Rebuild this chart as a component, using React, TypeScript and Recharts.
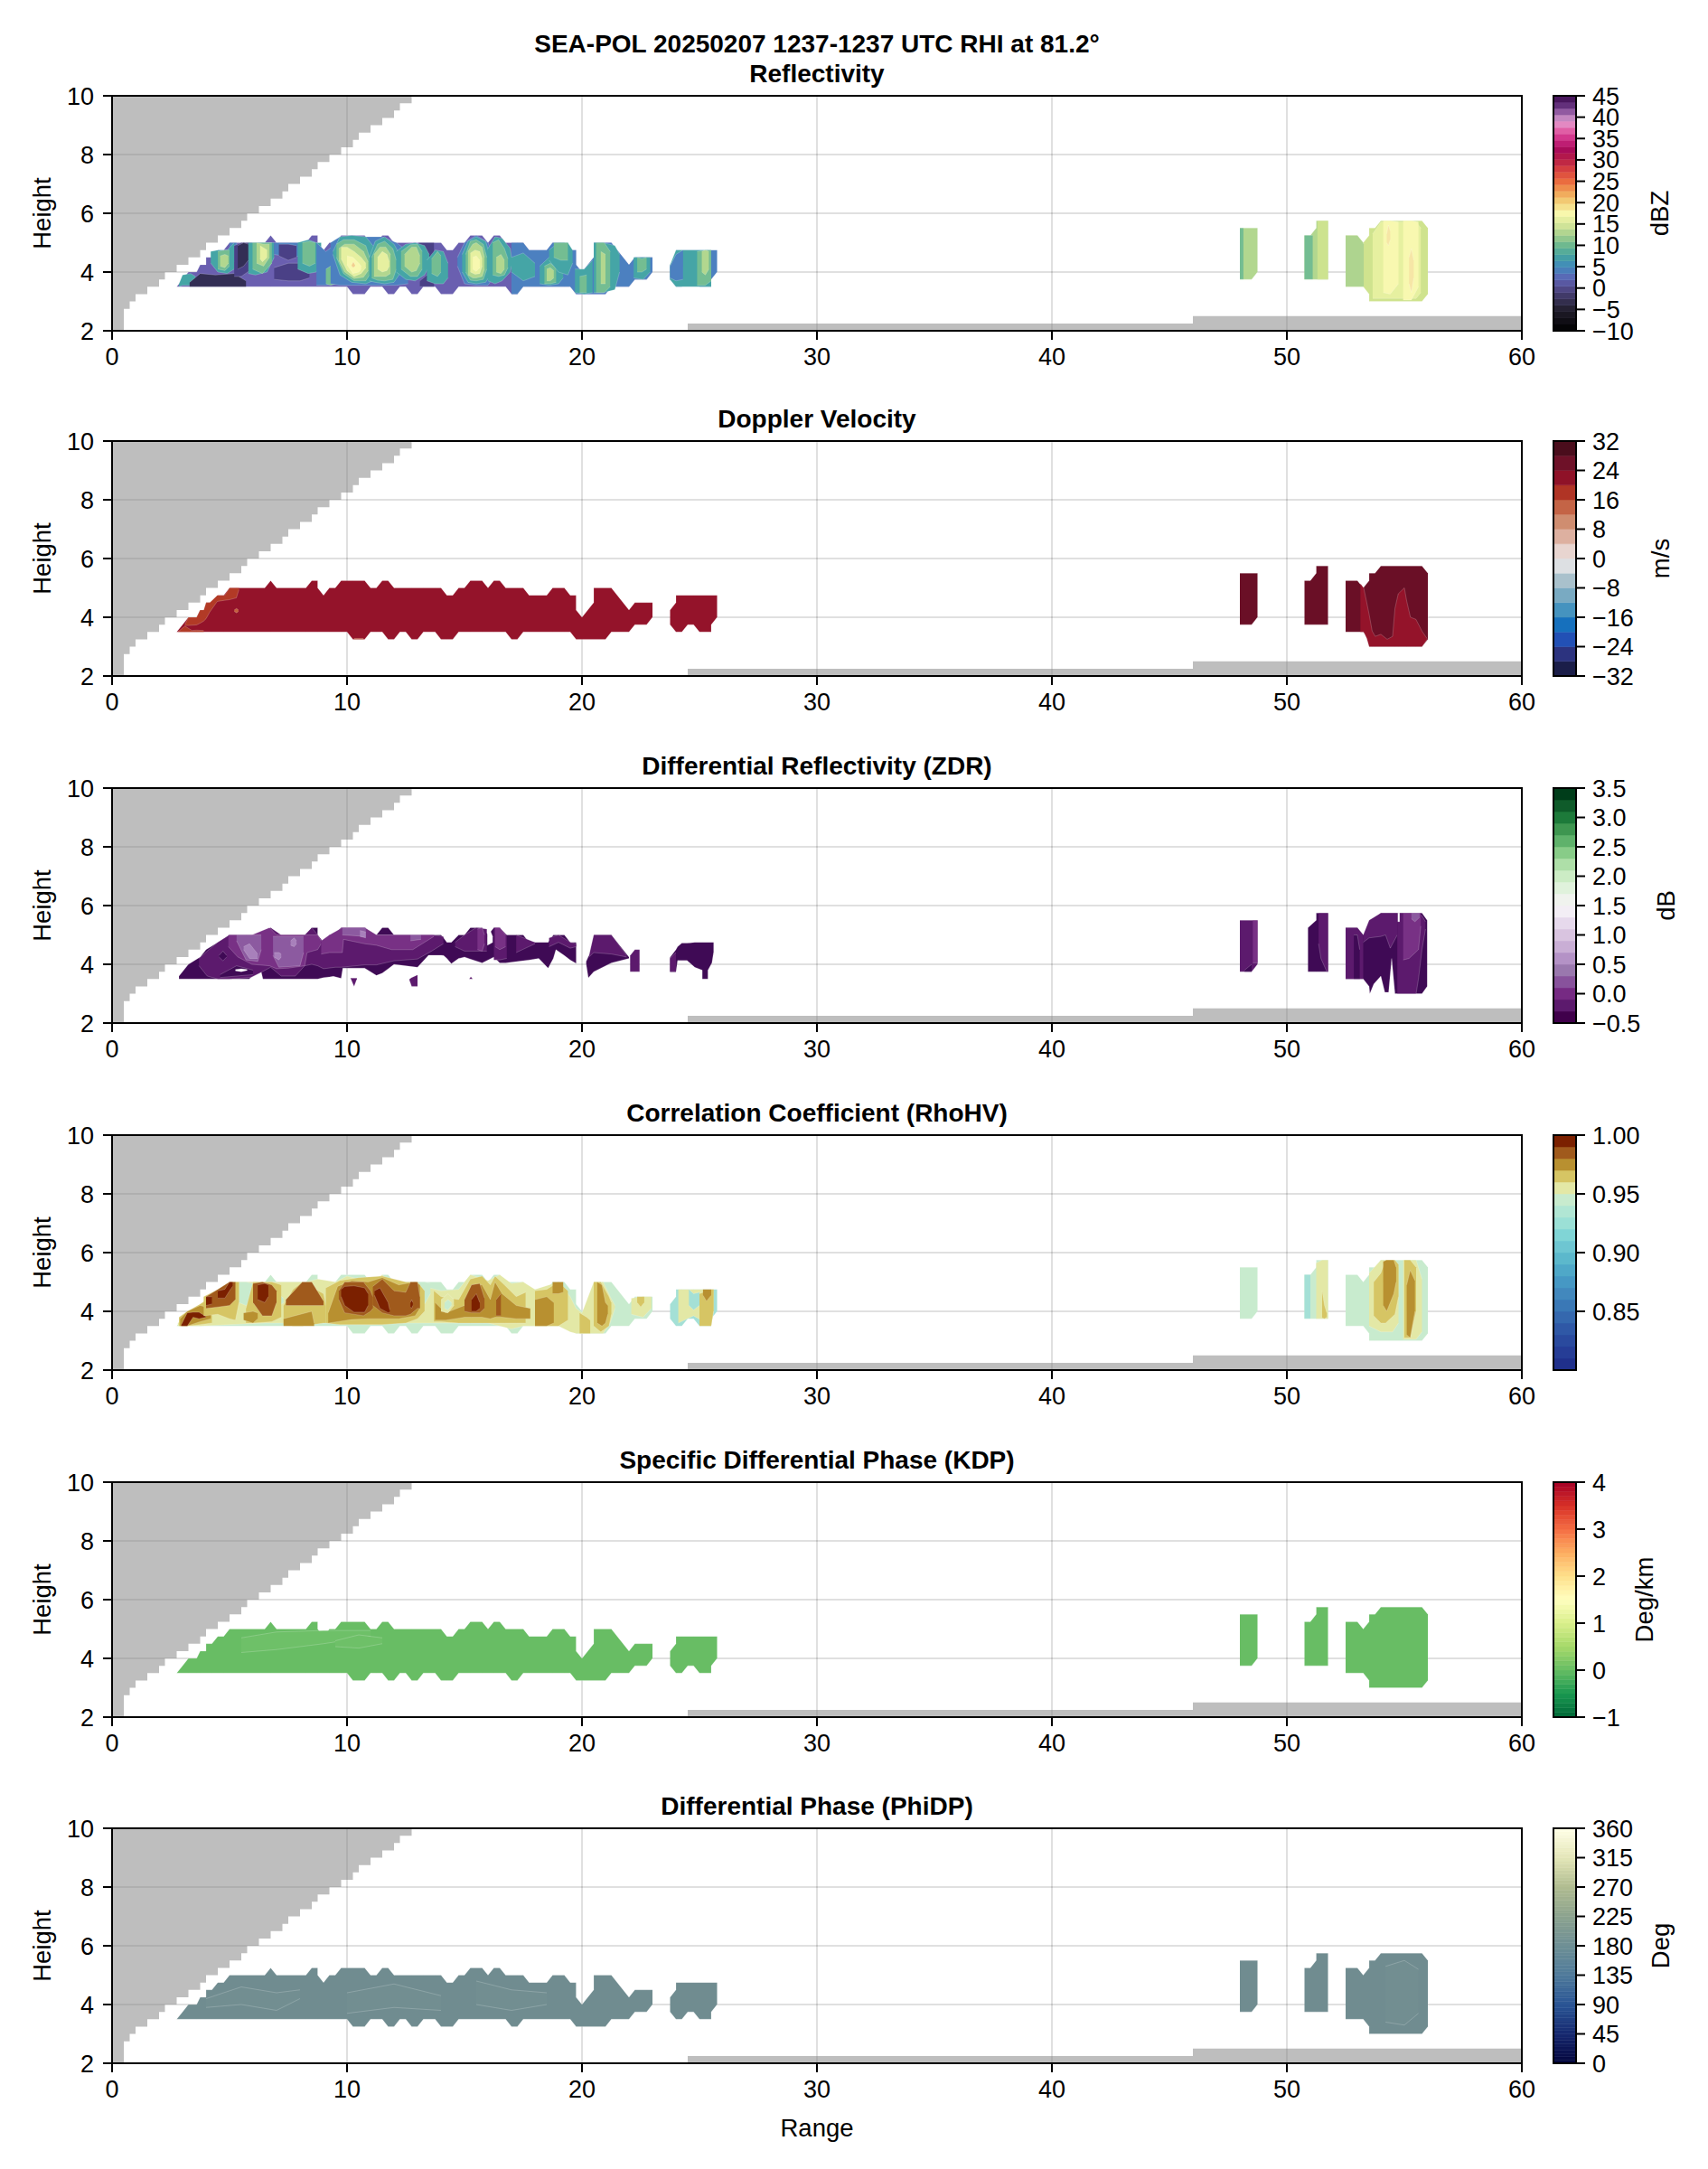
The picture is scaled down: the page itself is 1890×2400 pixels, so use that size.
import React from "react";
import {
  Area,
  CartesianGrid,
  ComposedChart,
  ReferenceArea,
  XAxis,
  YAxis,
} from "recharts";

type Pts = number[][]; // [range, low height, high height]
type Layer = [Pts, string];

const FONT = "'Liberation Sans', Arial, sans-serif";
const FS = 27.5;
const TITLE_FS = 28;
const TICK_FS = 27;

const rangeTicks = [0, 10, 20, 30, 40, 50, 60];
const heightTicks = [2, 4, 6, 8, 10];
const panelTops = [106, 488, 872, 1256, 1640, 2023];

// blocked beam area, upper left and along the ground
const blockedTop: Pts = [
  [0, 2, 10], [0.5, 2.75, 10], [0.75, 3, 10], [1, 3.25, 10], [1.5, 3.5, 10], [2, 3.75, 10], [2.25, 4, 10],
  [2.75, 4.25, 10], [3.25, 4.5, 10], [3.75, 4.75, 10], [4, 5, 10], [4.5, 5.25, 10], [5, 5.5, 10], [5.5, 5.75, 10],
  [5.75, 6, 10], [6.25, 6.25, 10], [6.75, 6.5, 10], [7.25, 6.75, 10], [7.5, 7, 10], [8, 7.25, 10], [8.5, 7.5, 10],
  [8.75, 7.75, 10], [9.25, 8, 10], [9.75, 8.25, 10], [10.25, 8.5, 10], [10.5, 8.75, 10], [11, 9, 10], [11.5, 9.25, 10],
  [12, 9.5, 10], [12.25, 9.75, 10], [12.75, 10, 10],
];
const blockedGround: Pts = [[24.5, 2, 2.25], [46, 2, 2.5], [60, 2, 2.5]];

// echo outlines
const bodyMain: Pts = [
  [2.75, 3.5, 3.5], [3, 3.5, 3.75], [3.25, 3.5, 4], [3.6, 3.5, 4], [3.75, 3.5, 4.25], [4, 3.5, 4.25], [4, 3.5, 4.5],
  [4.25, 3.5, 4.5], [4.5, 3.5, 4.75], [4.75, 3.5, 4.75], [5, 3.5, 5], [6.5, 3.5, 5], [6.75, 3.5, 5.25], [7, 3.5, 5],
  [8.25, 3.5, 5], [8.5, 3.5, 5.25], [8.75, 3.5, 5.25], [8.75, 3.5, 5], [9, 3.5, 4.75], [9.25, 3.5, 5], [9.5, 3.5, 5],
  [9.75, 3.5, 5.25], [10, 3.5, 5.25], [10.25, 3.25, 5.25], [10.75, 3.25, 5.25], [11, 3.5, 5], [11.25, 3.5, 5],
  [11.5, 3.5, 5.25], [11.75, 3.25, 5.25], [12, 3.25, 5], [12.25, 3.5, 5], [12.5, 3.5, 5], [12.75, 3.25, 5], [13, 3.25, 5],
  [13.25, 3.5, 5], [13.75, 3.5, 5], [14, 3.25, 5], [14.25, 3.25, 4.75], [14.5, 3.25, 4.75], [14.75, 3.5, 5], [15, 3.5, 5],
  [15.25, 3.5, 5.25], [15.75, 3.5, 5.25], [16, 3.5, 5], [16.25, 3.5, 5.25], [16.5, 3.5, 5.25], [16.75, 3.5, 5],
  [17, 3.25, 5], [17.25, 3.25, 5], [17.5, 3.5, 5], [17.75, 3.5, 4.75], [18.5, 3.5, 4.75], [18.75, 3.5, 5], [19.25, 3.5, 5],
  [19.5, 3.5, 4.75], [19.75, 3.25, 4.75], [19.75, 3.25, 4.25], [20, 3.25, 4], [20.5, 3.25, 4.5], [20.5, 3.25, 5],
  [21, 3.25, 5], [21.25, 3.5, 5], [22, 3.5, 4.25], [22.25, 3.75, 4.5], [22.75, 3.75, 4.5], [23, 4, 4.5],
];
const bodySecond: Pts = [
  [23.75, 3.75, 4.25], [24, 3.5, 4.5], [24, 3.5, 4.75], [24.25, 3.5, 4.75], [24.5, 3.75, 4.75], [24.75, 3.75, 4.75],
  [25, 3.5, 4.75], [25.5, 3.5, 4.75], [25.5, 3.75, 4.75], [25.75, 4, 4.75],
];
const cellA: Pts = [[48, 3.75, 5.5], [48.5, 3.75, 5.5], [48.75, 4, 5.5]];
const cellB: Pts = [[50.75, 3.75, 5.25], [51, 3.75, 5.25], [51.25, 3.75, 5.5], [51.25, 3.75, 5.75], [51.75, 3.75, 5.75]];
const cellC: Pts = [
  [52.5, 3.5, 5.25], [53, 3.5, 5.25], [53.25, 3.5, 5], [53.5, 3.25, 5.25], [53.5, 3, 5.5], [53.75, 3, 5.5],
  [54, 3, 5.75], [55.75, 3, 5.75], [56, 3.25, 5.5],
];
const cellCLeft: Pts = [[52.5, 3.5, 5.25], [53, 3.5, 5.25], [53.25, 3.5, 5], [53.27, 3.5, 4.95]];
const bodyRight: Pts = [
  [17, 3.25, 5], [17.25, 3.25, 5], [17.5, 3.5, 5], [17.75, 3.5, 4.75], [18.5, 3.5, 4.75], [18.75, 3.5, 5], [19.25, 3.5, 5],
  [19.5, 3.5, 4.75], [19.75, 3.25, 4.75], [19.75, 3.25, 4.25], [20, 3.25, 4], [20.5, 3.25, 4.5], [20.5, 3.25, 5],
  [21, 3.25, 5], [21.25, 3.5, 5], [22, 3.5, 4.25], [22.25, 3.75, 4.5], [22.75, 3.75, 4.5], [23, 4, 4.5],
];

// reflectivity contour colours
const Z = {
  black: "#332e55", dark: "#4a4086", violet: "#6a5fb0", blue: "#4c80c0", teal: "#45a5a6", green: "#74bd92",
  light: "#b2d78f", yellow: "#e6f0a0", pale: "#f8f8b0", peach: "#f2cf90",
};
const zHaloBlue: Pts = [[9.3, 3.6, 5], [9.7, 3.55, 5.2], [10.8, 3.55, 5.2], [11.5, 3.55, 5.2], [12.1, 3.55, 5], [12.6, 3.6, 4.7]];
const zATeal: Pts = [[9.4, 4.6, 4.7], [9.7, 3.9, 5.2], [10.2, 3.65, 5.25], [10.8, 3.6, 5.2], [11.1, 3.7, 4.9]];
const zAGreen: Pts = [[9.55, 4.5, 4.95], [9.85, 3.95, 5.1], [10.3, 3.7, 5.1], [10.8, 3.7, 4.9], [11, 3.95, 4.4]];
const zALight: Pts = [[9.65, 4.4, 4.8], [9.9, 4, 4.95], [10.3, 3.78, 4.95], [10.7, 3.82, 4.7], [10.9, 4.05, 4.35]];
const zAYellow: Pts = [[9.75, 4.45, 4.85], [10, 4.05, 4.85], [10.3, 3.85, 4.7], [10.6, 3.95, 4.5], [10.8, 4.15, 4.3]];
const zAPale: Pts = [[10, 4.25, 4.55], [10.25, 3.95, 4.5], [10.5, 4, 4.3], [10.6, 4.1, 4.2]];
const zAPeach: Pts = [[10.2, 4.2, 4.25], [10.27, 4.15, 4.35], [10.34, 4.2, 4.25]];
const zBTeal: Pts = [[10.95, 3.7, 4.5], [11.2, 3.65, 5.05], [11.6, 3.6, 5.2], [12, 3.65, 4.95], [12.3, 4, 4.5]];
const zBGreen: Pts = [[11.05, 3.8, 4.5], [11.3, 3.72, 4.95], [11.6, 3.7, 5.05], [11.95, 3.75, 4.8], [12.1, 4.1, 4.4]];
const zBLight: Pts = [[11.15, 3.85, 4.6], [11.4, 3.85, 4.85], [11.65, 3.85, 4.85], [11.85, 3.95, 4.6]];
const zBYellow: Pts = [[11.3, 4.1, 4.5], [11.5, 4, 4.7], [11.7, 4.05, 4.6], [11.8, 4.2, 4.35]];
const zCTeal: Pts = [[12.1, 4, 4.7], [12.5, 3.75, 4.95], [12.9, 3.7, 5], [13.3, 3.9, 4.9], [13.5, 4.2, 4.6]];
const zCGreen: Pts = [[12.3, 4.1, 4.7], [12.7, 3.85, 4.93], [13, 3.85, 4.95], [13.2, 4.1, 4.7]];
const zCLight: Pts = [[12.45, 4.2, 4.6], [12.75, 4, 4.85], [12.95, 4.05, 4.85], [13.1, 4.3, 4.55]];
const zCDark: Pts = [[13.05, 4.65, 5], [13.4, 4.45, 5], [13.7, 4.6, 5]];
const zCDarker: Pts = [[13.1, 3.5, 3.7], [13.4, 3.5, 3.9], [13.7, 3.5, 3.65]];
const zDTeal: Pts = [[13.4, 3.7, 4.4], [13.75, 3.6, 4.75], [14.1, 3.6, 4.7], [14.3, 3.8, 4.3]];
const zDGreen: Pts = [[13.6, 3.95, 4.45], [13.85, 3.85, 4.7], [14, 4, 4.55]];
const zEBlue: Pts = [[14.7, 4.2, 4.5], [15, 3.6, 5], [15.5, 3.55, 5.25], [16, 3.55, 5], [16.3, 3.9, 4.4]];
const zETeal: Pts = [[14.9, 4, 4.6], [15.15, 3.65, 5.05], [15.5, 3.6, 5.2], [15.9, 3.65, 5.05], [16.1, 3.9, 4.5]];
const zEGreen: Pts = [[15.05, 4, 4.6], [15.25, 3.72, 5.05], [15.5, 3.7, 5.1], [15.8, 3.75, 4.95], [15.95, 4.1, 4.5]];
const zELight: Pts = [[15.15, 3.9, 4.7], [15.35, 3.8, 4.95], [15.5, 3.8, 5], [15.75, 3.85, 4.85], [15.85, 4.1, 4.5]];
const zEYellow: Pts = [[15.25, 4, 4.65], [15.45, 3.92, 4.75], [15.65, 3.95, 4.7], [15.75, 4.2, 4.45]];
const zEPale: Pts = [[15.35, 4.1, 4.5], [15.5, 4.02, 4.55], [15.65, 4.15, 4.4]];
const zFTeal: Pts = [[16, 3.7, 4.8], [16.3, 3.6, 5.2], [16.6, 3.7, 5.15], [16.95, 4, 4.8], [17, 4.2, 4.5]];
const zFGreen: Pts = [[16.2, 3.9, 5], [16.45, 3.85, 5.1], [16.7, 3.9, 4.8], [16.85, 4.15, 4.45]];
const zFLight: Pts = [[16.35, 4, 4.5], [16.55, 3.95, 4.6], [16.7, 4.1, 4.4]];
const zGTeal: Pts = [[17, 4, 4.5], [17.5, 3.7, 4.65], [18, 3.85, 4.3]];
const zHTeal: Pts = [[18.2, 3.6, 4.2], [18.6, 3.55, 4.5], [19, 3.6, 4.4], [19.2, 3.8, 4.1]];
const zHGreen: Pts = [[18.4, 3.6, 4.2], [18.65, 3.6, 4.3], [18.9, 3.65, 4.15]];
const zHLight: Pts = [[18.5, 3.7, 4.1], [18.65, 3.7, 4.15], [18.8, 3.8, 4.05]];
const zITeal: Pts = [[18.6, 4.4, 4.75], [19, 4, 5], [19.4, 3.9, 5], [19.6, 4.3, 4.75]];
const zIGreen: Pts = [[18.8, 4.5, 5], [19.1, 4.4, 5], [19.4, 4.4, 5]];
const zJTeal: Pts = [[20.5, 3.3, 5], [20.9, 3.3, 5], [21.4, 3.4, 4.9], [21.6, 4, 4.6]];
const zJGreen: Pts = [[20.6, 3.3, 5], [20.95, 3.3, 5], [21.2, 3.5, 4.7]];
const zJLight: Pts = [[20.8, 3.6, 4.7], [21, 3.6, 4.6]];
const zKTeal: Pts = [[19.7, 3.3, 4.1], [20.1, 3.25, 4.1], [20.45, 3.3, 4.4]];
const zKGreen: Pts = [[19.9, 3.3, 3.85], [20.2, 3.3, 3.9]];
const zLTeal: Pts = [[22.2, 3.8, 4.5], [22.6, 3.75, 4.5], [22.9, 4, 4.5]];
const zLGreen: Pts = [[22.35, 4, 4.5], [22.55, 4, 4.45], [22.75, 4.1, 4.5]];
const zM1Teal: Pts = [[5.8, 3.95, 5], [6.1, 3.9, 5], [6.6, 4, 5], [6.9, 4.5, 5]];
const zM1Green: Pts = [[5.98, 4.1, 5], [6.4, 3.95, 5], [6.8, 4.3, 5]];
const zM1Light: Pts = [[6.15, 4.3, 5], [6.45, 4.2, 4.95], [6.7, 4.5, 4.95]];
const zM1Yellow: Pts = [[6.3, 4.45, 4.9], [6.4, 4.35, 4.85], [6.6, 4.5, 4.75]];
const zM2Teal: Pts = [[4.2, 4.3, 4.7], [4.5, 4, 4.75], [4.9, 3.95, 4.75], [5.2, 4.1, 5]];
const zM2Green: Pts = [[4.5, 4.1, 4.7], [4.8, 4.05, 4.75], [5, 4.2, 4.75]];
const zM2Light: Pts = [[4.6, 4.2, 4.55], [4.8, 4.15, 4.6], [4.95, 4.3, 4.55]];
const zLeftBlue: Pts = [[5, 4.5, 5], [5.3, 4.3, 5], [5.35, 4.6, 4.8]];
const zDark1: Pts = [[5.2, 3.85, 4.9], [5.5, 3.85, 5], [5.95, 4.1, 5]];
const zDark1b: Pts = [[5.35, 4.1, 4.9], [5.6, 4.2, 5], [5.8, 4.4, 4.95]];
const zDark2: Pts = [[3.3, 3.5, 3.65], [3.75, 3.5, 3.95], [4.4, 3.5, 3.9], [5.2, 3.5, 3.95], [5.7, 3.5, 3.7]];
const zBlueN: Pts = [[6.9, 4.6, 5], [7.6, 4.5, 5], [8, 4.55, 5]];
const zNTeal: Pts = [[7.9, 4.1, 5], [8.35, 3.95, 5.1], [8.7, 4, 5], [8.9, 4.4, 5]];
const zNGreen: Pts = [[8.1, 4.3, 5], [8.4, 4.2, 5.05], [8.65, 4.3, 5]];
const zDark3: Pts = [[6.9, 3.75, 4.15], [7.5, 3.7, 4.3], [8, 3.7, 4.3], [8.4, 3.8, 4.05]];
const zDark4: Pts = [[7.1, 4.55, 4.95], [7.5, 4.4, 4.95], [7.85, 4.5, 4.9]];
const zBlueP: Pts = [[8.7, 3.55, 5], [9.1, 3.55, 4.7], [9.6, 3.6, 5]];
const zPGreen: Pts = [[9.1, 3.6, 4.1], [9.3, 3.55, 4.2], [9.55, 3.6, 4]];
const zTipTeal: Pts = [[2.85, 3.5, 3.6], [3, 3.55, 3.9], [3.35, 3.55, 3.95], [3.55, 3.7, 3.85]];
const zSecondTeal: Pts = [[23.75, 3.75, 4.25], [24, 3.5, 4.75], [25, 3.5, 4.75], [25.5, 3.5, 4.75]];
const zSecondBlue: Pts = [[23.75, 3.8, 4.2], [24, 3.7, 4.6], [24.3, 3.75, 4.75]];
const zSecondGreen: Pts = [[24.9, 3.55, 4.7], [25.25, 3.55, 4.75], [25.5, 3.7, 4.75]];
const zSecondLight: Pts = [[25.1, 4, 4.7], [25.25, 3.9, 4.75], [25.4, 4.1, 4.7]];
const zCellCYellow: Pts = [[53.65, 3.1, 5.3], [54, 3.1, 5.7], [55.5, 3.1, 5.7], [55.7, 3.3, 5.5]];
const zCellCPale1: Pts = [[54.1, 3.3, 5.75], [54.4, 3.25, 5.75], [54.75, 3.6, 5.7]];
const zCellCPale2: Pts = [[54.95, 3.05, 5.75], [55.3, 3.05, 5.75], [55.6, 3.5, 5.7]];
const zCellCPeach1: Pts = [[54.25, 5, 5.3], [54.32, 4.9, 5.6], [54.4, 5.1, 5.4]];
const zCellCPeach2: Pts = [[55.2, 3.6, 4.5], [55.3, 3.3, 4.8], [55.4, 3.8, 4.4]];
const zCellAGreen: Pts = [[48, 3.75, 5.5], [48.15, 3.75, 5.5]];
const zCellBGreen: Pts = [[50.75, 3.75, 5.25], [51.1, 3.75, 5.25]];
const zCellBYellow: Pts = [[51.3, 3.75, 5.75], [51.75, 3.75, 5.75]];

const reflectivityLayers: Layer[] = [
  [bodyMain, Z.violet], [bodyRight, Z.blue], [bodySecond, Z.blue], [zTipTeal, Z.teal], [zDark2, Z.black],
  [zLeftBlue, Z.blue], [zM2Teal, Z.teal], [zM2Green, Z.green], [zM2Light, Z.light], [zDark1, Z.dark], [zDark1b, Z.black],
  [zM1Teal, Z.teal], [zM1Green, Z.green], [zM1Light, Z.light], [zM1Yellow, Z.yellow], [zBlueN, Z.blue], [zDark3, Z.dark], [zDark4, Z.dark],
  [zNTeal, Z.teal], [zNGreen, Z.green], [zBlueP, Z.blue], [zPGreen, Z.green], [zHaloBlue, Z.blue],
  [zATeal, Z.teal], [zAGreen, Z.green], [zALight, Z.light], [zAYellow, Z.yellow], [zAPale, Z.pale], [zAPeach, Z.peach],
  [zCDark, Z.dark], [zCDarker, Z.dark], [zBTeal, Z.teal], [zBGreen, Z.green], [zBLight, Z.light], [zBYellow, Z.yellow],
  [zCTeal, Z.teal], [zCGreen, Z.green], [zCLight, Z.light], [zDTeal, Z.teal], [zDGreen, Z.green],
  [zEBlue, Z.blue], [zETeal, Z.teal], [zEGreen, Z.green], [zELight, Z.light], [zEYellow, Z.yellow], [zEPale, Z.pale],
  [zFTeal, Z.teal], [zFGreen, Z.green], [zFLight, Z.light], [zGTeal, Z.teal], [zHTeal, Z.teal], [zHGreen, Z.green], [zHLight, Z.light],
  [zITeal, Z.teal], [zIGreen, Z.green], [zKTeal, Z.teal], [zKGreen, Z.green], [zJTeal, Z.teal], [zJGreen, Z.green], [zJLight, Z.light],
  [zLTeal, Z.teal], [zLGreen, Z.green], [zSecondTeal, Z.teal], [zSecondBlue, Z.blue], [zSecondGreen, Z.green], [zSecondLight, Z.light],
  [cellA, Z.light], [zCellAGreen, Z.green], [cellB, Z.light], [zCellBGreen, Z.green], [zCellBYellow, "#cde38f"],
  [cellC, "#cfe38e"], [cellCLeft, "#aed48f"], [zCellCYellow, Z.yellow], [zCellCPale1, Z.pale], [zCellCPale2, Z.pale],
  [zCellCPeach1, "#f6e6a6"], [zCellCPeach2, "#f6e6a6"],
];

// doppler velocity
const vOrangeUpper: Pts = [
  [3.1, 3.72, 3.75], [3.25, 3.72, 4], [3.6, 3.74, 4], [3.75, 3.8, 4.25], [3.9, 3.87, 4.25], [4, 3.95, 4.5],
  [4.16, 4.18, 4.5], [4.48, 4.54, 4.75], [4.8, 4.58, 4.75], [5, 4.6, 5], [5.29, 4.66, 5], [5.4, 4.94, 5],
];
const vOrangeLower: Pts = [[2.8, 3.5, 3.5], [3.1, 3.5, 3.7], [3.4, 3.5, 3.55], [3.6, 3.5, 3.56], [3.9, 3.5, 3.55]];
const vOrangeDot: Pts = [[5.2, 4.2, 4.25], [5.3, 4.15, 4.3], [5.38, 4.2, 4.25]];
const vOrangeFoot: Pts = [[10.3, 3.25, 3.28], [10.7, 3.25, 3.28]];
const vCellCRed: Pts = [
  [53.13, 3.5, 5.15], [53.27, 3.5, 5], [53.4, 3.28, 4.5], [53.5, 3, 4.1], [53.63, 3, 3.53], [53.76, 3, 3.35], [54, 3, 3.42],
  [54.27, 3, 3.25], [54.5, 3, 3.35], [54.6, 3, 4.3], [54.74, 3, 4.8], [55, 3, 5], [55.1, 3, 4.55], [55.26, 3, 4],
  [55.49, 3, 3.93], [55.75, 3, 3.53], [55.97, 3.25, 3.27],
];
const V = { red: "#94132a", wine: "#6a0f26", orange: "#b23a26" };
const velocityLayers: Layer[] = [
  [bodyMain, V.red], [bodySecond, V.red], [vOrangeUpper, V.orange], [vOrangeLower, V.orange], [vOrangeDot, "#c4603e"], [vOrangeFoot, "#c4603e"],
  [cellA, V.wine], [cellB, V.wine], [cellC, V.wine], [vCellCRed, V.red],
];

// differential reflectivity
const D = { dark: "#3f0a55", mid: "#5c1a6d", hi: "#783185", light: "#8c5aa0", pale: "#a880bb" };
const zdrMain: Pts = [
  [2.85, 3.5, 3.6], [3.25, 3.5, 4], [3.75, 3.5, 4.25], [4, 3.5, 4.5], [4.5, 3.5, 4.75], [5, 3.5, 5], [5.85, 3.5, 5], [6, 3.68, 5],
  [6.35, 3.74, 5], [6.42, 3.5, 5], [6.75, 3.5, 5.25], [7, 3.5, 5], [8.25, 3.5, 5], [8.5, 3.5, 5.25], [8.75, 3.5, 5.25], [8.75, 3.5, 5],
  [9, 3.55, 4.75], [9.25, 3.57, 5], [9.42, 3.59, 5], [9.75, 3.52, 5.25], [9.82, 3.87, 5.25], [10.75, 3.87, 5.25], [11, 3.75, 5],
  [11.25, 3.62, 5], [11.5, 3.7, 5.25], [11.75, 3.85, 5.25], [12, 4, 5], [13, 3.9, 5], [13.47, 4.31, 5], [14, 4.31, 5], [14.11, 4.3, 4.9],
  [14.25, 4.2, 4.75], [14.44, 4.02, 4.75], [14.75, 4.2, 5], [15, 4.25, 5], [15.25, 4.18, 5.25], [15.75, 4.05, 5.25], [16, 4.15, 5],
  [16.25, 4.25, 5.25], [16.5, 4.05, 5.25], [16.75, 4.05, 5], [17.5, 4.12, 5], [17.75, 4.15, 4.75], [18.16, 4.2, 4.75], [18.56, 3.87, 4.75],
  [18.78, 4.2, 5], [18.89, 4.5, 5], [19.25, 4.3, 5], [19.5, 4.15, 4.75], [19.75, 4.03, 4.75],
];
const zdrSecond: Pts = [[20.18, 4, 4.1], [20.27, 3.54, 4.26], [20.5, 3.75, 4.5], [20.5, 3.75, 5], [21.25, 4.05, 5], [22, 4.2, 4.25]];
const zdrStrip: Pts = [[22.05, 3.75, 4.3], [22.25, 3.75, 4.5], [22.45, 3.75, 4.5]];
const zdrThird: Pts = [
  [23.75, 3.74, 4.24], [24, 3.74, 4.5], [24.07, 4.13, 4.6], [24.25, 4.13, 4.72], [24.47, 4.13, 4.72], [24.8, 3.9, 4.75],
  [25.12, 3.8, 4.75], [25.12, 3.5, 4.75], [25.36, 3.5, 4.75], [25.36, 3.8, 4.75], [25.53, 4.05, 4.75], [25.6, 4.4, 4.75],
];
const zdrSpeck1: Pts = [[10.15, 3.52, 3.53], [10.3, 3.25, 3.53], [10.42, 3.5, 3.53]];
const zdrSpeck2: Pts = [[12.66, 3.45, 3.5], [12.75, 3.25, 3.55], [13, 3.25, 3.64]];
const zdrSpeck3: Pts = [[15.2, 3.5, 3.5], [15.27, 3.5, 3.58], [15.35, 3.5, 3.5]];
const zdrHole1: Pts = [[15.97, 4.65, 5], [16.1, 4.7, 5.15], [16.2, 4.75, 4.95]];
const zdrHole2: Pts = [[5.25, 3.78, 3.82], [5.5, 3.75, 3.85], [5.75, 3.79, 3.82]];
const zdrMid1: Pts = [
  [3.7, 3.95, 4.2], [4.05, 3.6, 4.45], [4.5, 3.5, 4.75], [5, 3.5, 5], [5.9, 3.55, 5], [6.4, 3.75, 5], [6.75, 3.9, 5.25], [7.2, 3.6, 5],
  [7.8, 3.6, 5], [8.2, 3.95, 5], [8.5, 4, 5.25], [8.75, 3.95, 5], [9, 3.85, 4.75], [9.5, 3.9, 5], [9.75, 3.9, 5.25], [10.75, 3.98, 5.25],
  [11.25, 3.98, 5], [12, 4.12, 5], [13, 4.18, 5], [13.6, 4.45, 5], [14.1, 4.7, 4.95],
];
const zdrMid2: Pts = [[14.6, 4.6, 4.75], [15, 4.45, 5], [15.5, 4.45, 5.25], [15.95, 4.45, 5.2]];
const zdrMid3: Pts = [[16.25, 4.15, 5.25], [16.5, 4.15, 5.25], [16.8, 4.2, 5]];
const zdrMid4: Pts = [[17.2, 4.4, 5], [18, 4.7, 4.75]];
const zdrMid5: Pts = [[18.6, 4.6, 4.9], [19, 4.75, 5], [19.5, 4.55, 4.75], [19.75, 4.6, 4.7]];
const zdrMid6: Pts = [[20.3, 4.25, 4.3], [20.5, 4.4, 5], [21.25, 4.35, 5], [21.9, 4.25, 4.3]];
const zdrMid7: Pts = [[23.75, 3.75, 4.2], [24, 3.75, 4.4]];
const zdrDark1: Pts = [[4.55, 4.25, 4.3], [4.72, 4.12, 4.45], [4.88, 4.25, 4.3]];
const zdrDark2: Pts = [[4.6, 3.55, 3.65], [5.3, 3.6, 3.95], [6, 3.65, 3.8]];
const zdrHi1: Pts = [[4.95, 4.6, 5], [5.35, 4.25, 5], [5.95, 4, 5], [6.7, 3.95, 5.25], [7, 3.85, 5], [7.5, 3.87, 5], [8.2, 3.95, 5], [8.3, 4.4, 5], [8.75, 4.5, 5], [8.9, 4.7, 4.8]];
const zdrHi2: Pts = [[8.9, 4.35, 4.8], [9.25, 4.4, 5], [9.8, 4.4, 5.25], [9.85, 4.85, 5.25], [10.75, 4.7, 5.25], [11.25, 4.65, 5], [11.9, 4.5, 5], [12.8, 4.5, 5], [13.7, 4.95, 5]];
const zdrHi3: Pts = [[16.3, 4.6, 5.25], [16.5, 4.5, 5.25], [16.75, 4.6, 5]];
const zdrHi4: Pts = [[15.55, 4.5, 5.2], [15.75, 4.45, 5.25], [15.85, 4.7, 5]];
const zdrLight1: Pts = [[5.3, 4.8, 5], [5.7, 4.15, 5], [6.2, 4.1, 5], [6.35, 4.5, 5]];
const zdrLight2: Pts = [[6.85, 4.3, 4.95], [7.1, 3.9, 4.95], [8, 3.95, 4.95], [8.15, 4.4, 4.95]];
const zdrLight3: Pts = [[9.8, 5, 5.25], [10.8, 4.95, 5.25]];
const zdrLight4: Pts = [[12.7, 4.8, 5], [13.15, 4.85, 5]];
const zdrPale1: Pts = [[5.6, 4.5, 4.6], [5.85, 4.2, 4.7], [6.2, 4.2, 4.35]];
const zdrPale2: Pts = [[6.9, 4.25, 4.4], [7.1, 4.15, 4.4], [7.2, 4.25, 4.35]];
const zdrPale3: Pts = [[7.6, 4.65, 4.8], [7.75, 4.6, 4.9], [7.85, 4.7, 4.8]];
const zdrPale4: Pts = [[10.55, 4.95, 5.15], [10.8, 4.9, 5.1]];
const zdrCellAHi: Pts = [[48.55, 4.05, 5.5], [48.75, 4.05, 5.5]];
const zdrCellADark: Pts = [[48.2, 3.75, 3.8], [48.5, 3.75, 4]];
const zdrCellB: Pts = [[50.9, 3.75, 5.25], [51.25, 3.75, 5.5], [51.25, 3.75, 5.75], [51.75, 3.75, 5.75]];
const zdrCellBMid: Pts = [[51.35, 4.7, 5.75], [51.45, 4.2, 5.75], [51.7, 3.75, 5.75], [51.75, 3.75, 5.75]];
const zdrCellC: Pts = [
  [52.5, 3.5, 5.25], [53, 3.5, 5.25], [53.25, 3.5, 5], [53.5, 3.25, 5.25], [53.53, 3, 5.5], [53.7, 3.33, 5.5], [54, 3.6, 5.75],
  [54.17, 3.05, 5.75], [54.33, 3.05, 5.75], [54.46, 4.2, 5.75], [54.6, 3, 5.75], [55.75, 3, 5.75], [55.97, 3.25, 5.5],
];
const zdrCellCMidLeft: Pts = [[52.5, 3.5, 5.25], [53, 3.5, 5.25], [53.25, 3.5, 5]];
const zdrCellCDarkLeft: Pts = [[52.85, 3.5, 5], [53, 3.5, 5], [53.1, 3.5, 4.5]];
const zdrCellCMidTop: Pts = [[53.25, 4.75, 5], [53.5, 4.9, 5.5], [54, 4.95, 5.75], [54.2, 5, 5.75], [54.4, 4.55, 5.75], [54.7, 5, 5.75]];
const zdrCellCMidRight: Pts = [[54.7, 3, 5.75], [55.5, 3, 5.75], [55.6, 3.5, 5.75], [55.75, 4.5, 5.65], [55.9, 5.2, 5.45]];
const zdrCellCHi: Pts = [[54.95, 4.15, 5.75], [55.2, 4.2, 5.75], [55.6, 4.5, 5.75], [55.7, 5.3, 5.75]];
const zdrCellCTop: Pts = [[55.3, 5.55, 5.75], [55.45, 5.45, 5.75], [55.65, 5.6, 5.75]];
const zdrCellCGap: Pts = [[54.72, 5.45, 5.75], [54.8, 5.45, 5.75]];
const zdrLayers: Layer[] = [
  [zdrMain, D.dark], [zdrSecond, D.dark], [zdrStrip, D.mid], [zdrThird, D.dark], [zdrSpeck1, D.mid], [zdrSpeck2, D.mid], [zdrSpeck3, D.mid],
  [zdrMid1, D.mid], [zdrMid2, D.mid], [zdrMid3, D.mid], [zdrMid4, D.mid], [zdrMid5, D.mid], [zdrMid6, D.mid], [zdrMid7, D.mid],
  [zdrDark1, D.dark], [zdrDark2, D.dark], [zdrHi1, D.hi], [zdrHi2, D.hi], [zdrHi3, D.hi], [zdrHi4, D.hi],
  [zdrLight1, D.light], [zdrLight2, D.light], [zdrLight3, D.light], [zdrLight4, D.light],
  [zdrPale1, D.pale], [zdrPale2, D.pale], [zdrPale3, D.pale], [zdrPale4, D.pale], [zdrHole1, "#ffffff"], [zdrHole2, "#ffffff"],
  [cellA, D.mid], [zdrCellAHi, D.hi], [zdrCellADark, D.dark], [zdrCellB, D.dark], [zdrCellBMid, D.mid],
  [zdrCellC, D.dark], [zdrCellCMidLeft, D.mid], [zdrCellCDarkLeft, D.dark], [zdrCellCMidTop, D.mid], [zdrCellCMidRight, D.mid],
  [zdrCellCHi, D.hi], [zdrCellCTop, D.light], [zdrCellCGap, "#ffffff"],
];

// correlation coefficient
const R = { cyan: "#a4e0d6", mint: "#c8ebce", khaki: "#e3e8a6", gold: "#d6c564", bronze: "#b89030", brown: "#a05a1c", rust: "#7b2000" };
const rKhaki: Pts = [
  [2.8, 3.5, 3.6], [3.75, 3.5, 4.25], [5, 3.55, 5], [6.5, 3.6, 5], [8.25, 3.6, 5], [8.75, 3.6, 5.1], [9.5, 3.6, 5], [10, 3.6, 5.2],
  [11, 3.55, 5], [11.5, 3.6, 5.25], [12, 3.6, 4.85], [13, 3.6, 4.9], [14, 3.6, 4.7], [14.75, 3.6, 4.75], [15.25, 3.6, 5.25], [16, 3.6, 5.05],
  [16.5, 3.5, 5.25], [17, 3.4, 4.95], [17.5, 3.5, 5], [18, 3.5, 4.75], [19, 3.5, 5], [19.5, 3.3, 4.5], [19.75, 3.25, 4.1], [20, 3.25, 3.95],
  [20.5, 3.25, 5], [20.9, 3.25, 5], [21.2, 3.6, 4.5], [21.4, 4.1, 4.2],
];
const rMintTop: Pts = [[5.4, 4.3, 5], [5.7, 4.2, 5], [6, 4.4, 4.95]];
const rMintSpot: Pts = [[6.75, 4.25, 4.45], [7.05, 4.15, 4.6], [7.3, 4.3, 4.45]];
const rMintEast: Pts = [[12.95, 4.3, 5], [13.3, 4.25, 5], [13.55, 4.6, 4.95]];
const rLeftGold: Pts = [[2.85, 3.5, 3.8], [3.2, 3.5, 4], [3.75, 3.55, 4.25], [4.25, 3.6, 4.5]];
const rLeftBrown: Pts = [[2.9, 3.5, 3.75], [3.2, 3.5, 4], [3.75, 3.65, 4.2], [4.2, 3.75, 4.1]];
const rLeftRust: Pts = [[2.95, 3.5, 3.55], [3.2, 3.5, 3.95], [3.45, 3.8, 3.97], [3.7, 3.75, 3.97], [4, 3.8, 3.82]];
const rUpGold: Pts = [[3.9, 3.85, 4.5], [4.5, 3.9, 4.75], [5, 3.75, 5], [5.25, 3.7, 5], [5.4, 4.3, 5]];
const rUpBrown: Pts = [[4, 4.1, 4.5], [4.5, 4.15, 4.75], [5, 4.2, 5], [5.25, 4.4, 5]];
const rUpRust1: Pts = [[4.5, 4.45, 4.7], [4.8, 4.45, 4.75], [5, 4.7, 5], [5.13, 4.85, 5]];
const rUpRust2: Pts = [[4, 4.2, 4.5], [4.25, 4.25, 4.5]];
const rMidGold: Pts = [[5.7, 3.6, 4.1], [6, 3.6, 5], [6.8, 3.65, 5], [7.2, 3.8, 4.9]];
const rMidBrownLow: Pts = [[5.6, 3.7, 3.95], [6, 3.6, 4], [6.2, 3.75, 3.95]];
const rMidBrown: Pts = [[6, 4.3, 4.95], [6.4, 3.85, 5], [6.8, 3.85, 4.9], [7, 4.3, 4.7]];
const rMidRust: Pts = [[6.2, 4.4, 4.9], [6.5, 4.3, 4.95], [6.65, 4.5, 4.9]];
const rNextGold: Pts = [[7.3, 3.55, 4.2], [7.7, 3.5, 4.75], [8.1, 3.5, 5], [9, 3.6, 4.6], [9.1, 3.6, 4.2]];
const rNextBronzeUp: Pts = [[7.4, 4.2, 4.4], [8.1, 4.2, 5], [8.5, 4.2, 5], [9, 4.2, 4.35]];
const rNextBronzeLow: Pts = [[7.3, 3.5, 3.75], [8.5, 3.5, 4], [8.6, 3.5, 3.6]];
const rBigGold: Pts = [[9.1, 3.6, 4.8], [9.7, 3.55, 5.05], [10.5, 3.55, 5.15], [11.5, 3.55, 5.2], [12.5, 3.6, 5], [13, 3.75, 5], [13.3, 4, 4.7]];
const rBigBronze: Pts = [[9.2, 3.6, 3.95], [9.6, 3.65, 4.85], [10.2, 3.72, 5.05], [10.9, 3.75, 5], [11.5, 3.75, 5.15], [12.2, 3.75, 4.9], [12.9, 3.85, 5], [13.1, 4.1, 4.9]];
const rBigBrown1: Pts = [[9.65, 4.4, 4.7], [9.9, 3.95, 5], [10.7, 3.85, 5], [11, 4, 4.7], [11.1, 4.1, 4.5]];
const rBigBrown2: Pts = [[11.1, 4.2, 4.85], [11.5, 3.95, 5.1], [12, 3.85, 4.7], [12.5, 3.85, 4.65], [12.7, 3.9, 5], [13, 4.1, 5], [13.1, 4.1, 4.5]];
const rBigRust1: Pts = [[9.75, 4.5, 4.75], [9.9, 4.2, 4.85], [10.3, 3.97, 4.87], [10.75, 3.97, 4.8], [10.9, 4.2, 4.6]];
const rBigRust2: Pts = [[11.17, 4.55, 4.7], [11.4, 4.1, 4.8], [11.75, 3.95, 4.3], [11.82, 3.97, 4.05]];
const rBigRust3: Pts = [[12.7, 4.15, 4.3], [12.75, 4.1, 4.4], [12.8, 4.2, 4.3]];
const rEastGold: Pts = [[13.7, 3.65, 4.7], [14, 3.65, 4.5], [14.75, 3.6, 4.4], [15.25, 3.6, 5.1], [15.75, 3.6, 5.2], [16.1, 3.6, 4.9], [16.3, 3.6, 5.2], [16.7, 3.6, 4.9], [17.2, 3.6, 4.5], [17.6, 3.6, 4.65]];
const rEastBronze: Pts = [[13.75, 3.7, 4.3], [14.2, 3.7, 3.95], [15, 3.8, 4.2], [15.3, 3.8, 4.9], [15.75, 3.8, 4.9], [16.1, 3.75, 4.4], [16.3, 3.8, 5], [16.6, 3.8, 4.6], [17.2, 3.75, 4.2], [17.8, 3.75, 4.1]];
const rHoleKhaki: Pts = [[14, 4, 4.4], [14.3, 3.95, 4.6], [14.55, 4.2, 4.4]];
const rHoleMint: Pts = [[14.15, 4.1, 4.3], [14.3, 4.05, 4.4], [14.45, 4.2, 4.3]];
const rEastBrown1: Pts = [[15, 4, 4.4], [15.3, 3.95, 4.9], [15.65, 3.95, 4.95], [15.85, 4.1, 4.45]];
const rEastBrown2: Pts = [[16.35, 3.85, 4.4], [16.55, 3.85, 4.6]];
const rEastRust: Pts = [[15.3, 4, 4.4], [15.5, 4, 4.6], [15.65, 4.1, 4.3]];
const rFarGold: Pts = [[18, 3.5, 4.7], [18.5, 3.5, 4.75], [19, 3.5, 5], [19.4, 3.7, 4.7]];
const rFarBronze1: Pts = [[18, 3.5, 4.4], [18.5, 3.5, 4.5], [18.8, 3.6, 4.3]];
const rFarBronze2: Pts = [[18.75, 4.6, 5], [19, 4.6, 5], [19.2, 4.65, 5]];
const rJGold: Pts = [[20.5, 3.5, 5], [20.8, 3.3, 5], [21.15, 3.5, 4.5], [21.25, 3.9, 4.3]];
const rJBronze: Pts = [[20.65, 3.6, 5], [20.85, 3.5, 4.9], [21, 3.6, 4.3], [21.1, 3.9, 4.2]];
const rKGold: Pts = [[19.9, 3.25, 3.95], [20.2, 3.25, 3.8], [20.35, 3.25, 3.7]];
const rLKhaki: Pts = [[22.1, 3.9, 4.45], [22.6, 3.8, 4.5], [22.95, 4.1, 4.5]];
const rLGold: Pts = [[22.35, 4.3, 4.5], [22.5, 4.15, 4.5], [22.65, 4.3, 4.5]];
const rSecondKhaki: Pts = [[24.1, 3.6, 4.75], [24.75, 3.85, 4.75], [25.5, 3.5, 4.75], [25.6, 4, 4.75]];
const rSecondMint: Pts = [[24.55, 4.2, 4.75], [24.75, 4.05, 4.6], [25, 4.2, 4.65]];
const rSecondGold: Pts = [[25, 3.5, 4.6], [25.5, 3.5, 4.75], [25.6, 4, 4.75]];
const rSecondBronze: Pts = [[25.15, 4.55, 4.75], [25.3, 4.35, 4.75], [25.5, 4.55, 4.75]];
const rCellBCyan: Pts = [[50.75, 3.75, 5.25], [51, 3.75, 5.25]];
const rCellBKhaki: Pts = [[51.25, 3.75, 5.65], [51.5, 3.75, 5.75], [51.75, 3.75, 5.75]];
const rCellBGold: Pts = [[51.5, 3.78, 4.7], [51.6, 3.75, 4.2], [51.7, 3.8, 3.95]];
const rCellCKhaki1: Pts = [[53.5, 3.5, 5.3], [54, 3.3, 5.75], [54.5, 3.3, 5.75], [54.75, 3.6, 5.5]];
const rCellCKhaki2: Pts = [[54.95, 3.05, 5.75], [55.5, 3.05, 5.75], [55.75, 3.3, 5.1]];
const rCellCGold1: Pts = [[53.7, 3.85, 5], [54, 3.6, 5.3], [54.2, 3.6, 5.75], [54.6, 3.9, 5.75], [54.75, 4.5, 5.6]];
const rCellCBronze1: Pts = [[54.1, 4.2, 5.7], [54.25, 4, 5.75], [54.55, 4.6, 5.75], [54.65, 5, 5.5]];
const rCellCGold2: Pts = [[55, 3.1, 5.75], [55.25, 3.1, 5.75], [55.5, 4, 5.5]];
const rCellCBronze2: Pts = [[55.1, 3.2, 4.9], [55.25, 3.1, 5.4], [55.45, 4, 5.05]];
const rhoLayers: Layer[] = [
  [bodyMain, R.mint], [bodySecond, R.cyan], [rKhaki, R.khaki], [rMintTop, R.mint], [rMintSpot, R.mint], [rMintEast, R.mint],
  [rLeftGold, R.gold], [rLeftBrown, R.bronze], [rLeftRust, R.rust],
  [rUpGold, R.gold], [rUpBrown, R.brown], [rUpRust1, R.rust], [rUpRust2, R.rust], [rMidGold, R.gold], [rMidBrownLow, R.bronze], [rMidBrown, R.brown], [rMidRust, R.rust],
  [rNextGold, R.gold], [rNextBronzeUp, R.brown], [rNextBronzeLow, R.bronze], [rBigGold, R.gold], [rBigBronze, R.bronze], [rBigBrown1, R.brown], [rBigBrown2, R.brown],
  [rBigRust1, R.rust], [rBigRust2, R.rust], [rBigRust3, R.rust], [rEastGold, R.gold], [rEastBronze, R.bronze], [rHoleKhaki, R.khaki], [rHoleMint, R.mint],
  [rEastBrown1, R.brown], [rEastBrown2, R.brown], [rEastRust, R.rust], [rFarGold, R.gold], [rFarBronze1, R.bronze], [rFarBronze2, R.bronze],
  [rJGold, R.gold], [rJBronze, R.bronze], [rKGold, R.gold], [rLKhaki, R.khaki], [rLGold, R.gold],
  [rSecondKhaki, R.khaki], [rSecondMint, R.cyan], [rSecondGold, R.gold], [rSecondBronze, R.bronze],
  [cellA, R.mint], [cellB, R.mint], [rCellBCyan, R.cyan], [rCellBKhaki, R.khaki], [rCellBGold, R.gold],
  [cellC, R.mint], [rCellCKhaki1, R.khaki], [rCellCKhaki2, R.khaki], [rCellCGold1, R.gold], [rCellCBronze1, R.bronze], [rCellCGold2, R.gold], [rCellCBronze2, R.bronze],
];

// specific differential phase
const kGreen = "#68bd64";
const kLight = "#6ec068";
const kPatch1: Pts = [[5.5, 4.2, 4.7], [7, 4.3, 4.9], [9, 4.5, 4.95], [11, 4.75, 4.95]];
const kPatch2: Pts = [[9.5, 4.4, 4.6], [10.5, 4.35, 4.8], [11.5, 4.5, 4.7]];
const kdpLayers: Layer[] = [[bodyMain, kGreen], [bodySecond, kGreen], [kPatch1, kLight], [kPatch2, kLight], [cellA, kGreen], [cellB, kGreen], [cellC, kGreen]];

// differential phase
const pGrey = "#708c90";
const pLight = "#728e91";
const pPatch1: Pts = [[4, 3.9, 4.2], [5.5, 4, 4.6], [7, 3.8, 4.4], [8, 4.2, 4.5]];
const pPatch2: Pts = [[10, 3.7, 4.4], [12, 3.9, 4.7], [14, 3.8, 4.3]];
const pPatch3: Pts = [[15.5, 4, 4.8], [17, 3.8, 4.5], [18.5, 4, 4.4]];
const pPatch4: Pts = [[54.2, 3.4, 5.3], [55, 3.3, 5.5], [55.6, 3.7, 5.2]];
const phiLayers: Layer[] = [[bodyMain, pGrey], [bodySecond, pGrey], [pPatch1, pLight], [pPatch2, pLight], [pPatch3, pLight], [cellA, pGrey], [cellB, pGrey], [cellC, pGrey], [pPatch4, pLight]];

// colour bars: [value, colour] stops from the bottom up, or listed bands
const reflectivityStops: [number, string][] = [
  [-10, "#000000"], [-5, "#231f2e"], [0, "#524a8a"], [2, "#5f62b4"], [5, "#4189bd"], [7.5, "#45a2a0"], [10, "#6cb88f"], [12.5, "#a8d08d"],
  [15, "#d8e89a"], [17.5, "#f8f7ac"], [20, "#f3d27a"], [22.5, "#f0a255"], [25, "#ea6a3e"], [27.5, "#d9443f"], [30, "#b81f45"], [32.5, "#a80b5a"],
  [35, "#d02f88"], [37.5, "#e66fb0"], [39, "#e0a0d2"], [41, "#9a62a8"], [43, "#5c2a75"], [45, "#3d0b4f"],
];
const velocityBands = ["#1b1e49", "#2c337f", "#2250b5", "#1670bd", "#4593bf", "#79aac2", "#a9c1cc", "#dde0e3", "#e8d5d0", "#ddb0a0", "#cf8d70", "#c46446", "#b03425", "#8f1228", "#6e1128", "#4a0d1c"];
const zdrBands = ["#40004b", "#5c1a6d", "#762a83", "#88529c", "#9a78ae", "#b492c6", "#c9aed5", "#d9c4e0", "#e6d9ec", "#f3eef5", "#f0f3ee", "#e0f2dc", "#ccecc5", "#aedfa8", "#88cc88", "#5fb26b", "#3e9650", "#1d7a3a", "#0f5b2a", "#003d1a"];
const rhoBands = ["#20308c", "#263d96", "#2a4a9e", "#2f58a6", "#3568ae", "#3a78b6", "#4288bd", "#4698c4", "#4fa8c8", "#5cb8cc", "#6ec6d2", "#80d5d6", "#9be0d6", "#b1e6d4", "#c8ebce", "#e3e8a6", "#d6c564", "#b89030", "#a05a1c", "#7b2000"];
const kdpStops: [number, string][] = [
  [-1, "#006837"], [-0.5, "#1a9850"], [0, "#66bd63"], [0.5, "#a6d96a"], [1, "#d9ef8b"], [1.5, "#ffffbf"], [2, "#fee08b"], [2.5, "#fdae61"], [3, "#f46d43"], [3.5, "#d73027"], [4, "#a50026"],
];
const phiStops: [number, string][] = [
  [0, "#04063c"], [45, "#16286f"], [90, "#2a5595"], [135, "#4f7a9a"], [180, "#6e8f95"], [225, "#8ca38f"], [270, "#b0bc90"], [315, "#e4e6b8"], [360, "#ffffe8"],
];

const reflectivityTicks = [-10, -5, 0, 5, 10, 15, 20, 25, 30, 35, 40, 45];
const velocityTicks = [-32, -24, -16, -8, 0, 8, 16, 24, 32];
const zdrTicks = [-0.5, 0, 0.5, 1, 1.5, 2, 2.5, 3, 3.5];
const rhoTicks = [0.85, 0.9, 0.95, 1];
const kdpTicks = [-1, 0, 1, 2, 3, 4];
const phiTicks = [0, 45, 90, 135, 180, 225, 270, 315, 360];
const barExtent = [{ x: 0 }, { x: 1 }];

const hex = (c: string) => [1, 3, 5].map((i) => parseInt(c.slice(i, i + 2), 16));

function colorAt(stops: [number, string][], v: number) {
  let i = 0;
  while (i < stops.length - 2 && v > stops[i + 1][0]) i++;
  const [a, ca] = stops[i];
  const [b, cb] = stops[i + 1];
  const t = Math.min(1, Math.max(0, (v - a) / (b - a)));
  const pa = hex(ca);
  const pb = hex(cb);
  return `rgb(${pa.map((p, k) => Math.round(p + (pb[k] - p) * t)).join(",")})`;
}

function stopBands(stops: [number, string][], n: number) {
  const lo = stops[0][0];
  const hi = stops[stops.length - 1][0];
  const w = (hi - lo) / n;
  return Array.from({ length: n }, (_, i) => colorAt(stops, lo + w * (i + 0.5)));
}

const rows = (pts: Pts) => pts.map(([x, low, high]) => ({ x, range: [low, high] }));

const panels = [
  { title: "Reflectivity", unit: "dBZ", unitX: 1837, layers: reflectivityLayers, bands: stopBands(reflectivityStops, 37), lo: -10, hi: 45, ticks: reflectivityTicks, digits: 0 },
  { title: "Doppler Velocity", unit: "m/s", unitX: 1838, layers: velocityLayers, bands: velocityBands, lo: -32, hi: 32, ticks: velocityTicks, digits: 0 },
  { title: "Differential Reflectivity (ZDR)", unit: "dB", unitX: 1844, layers: zdrLayers, bands: zdrBands, lo: -0.5, hi: 3.5, ticks: zdrTicks, digits: 1 },
  { title: "Correlation Coefficient (RhoHV)", unit: "", unitX: 0, layers: rhoLayers, bands: rhoBands, lo: 0.8, hi: 1, ticks: rhoTicks, digits: 2 },
  { title: "Specific Differential Phase (KDP)", unit: "Deg/km", unitX: 1820, layers: kdpLayers, bands: stopBands(kdpStops, 50), lo: -1, hi: 4, ticks: kdpTicks, digits: 0 },
  { title: "Differential Phase (PhiDP)", unit: "Deg", unitX: 1838, layers: phiLayers, bands: stopBands(phiStops, 72), lo: 0, hi: 360, ticks: phiTicks, digits: 0 },
];

const tickStyle = { fontSize: TICK_FS, fill: "#000", fontFamily: FONT };
const axisLine = { stroke: "#000", strokeWidth: 2 };

function Label({ x, y, text, bold, vertical }: { x: number; y: number; text: string; bold?: boolean; vertical?: boolean }) {
  return (
    <div
      style={{
        position: "absolute",
        left: x,
        top: y,
        transform: `translate(-50%, -50%)${vertical ? " rotate(-90deg)" : ""}`,
        fontFamily: FONT,
        fontSize: bold ? TITLE_FS : FS,
        fontWeight: bold ? 700 : 400,
        whiteSpace: "nowrap",
        color: "#000",
      }}
    >
      {text}
    </div>
  );
}

function Panel({ top, p }: { top: number; p: (typeof panels)[number] }) {
  const step = (p.hi - p.lo) / p.bands.length;
  return (
    <>
      <div style={{ position: "absolute", left: 0, top: top - 30 }}>
        <ComposedChart width={1730} height={360} margin={{ top: 30, right: 46, left: 60, bottom: 0 }}>
          <CartesianGrid stroke="rgba(0,0,0,0.12)" strokeWidth={2} />
          <XAxis
            type="number"
            dataKey="x"
            domain={[0, 60]}
            ticks={rangeTicks}
            allowDataOverflow
            height={70}
            tick={tickStyle}
            tickSize={10}
            tickMargin={9}
            axisLine={axisLine}
            tickLine={axisLine}
            interval={0}
          />
          <YAxis
            type="number"
            domain={[2, 10]}
            ticks={heightTicks}
            allowDataOverflow
            width={64}
            tick={tickStyle}
            tickSize={10}
            tickMargin={10}
            axisLine={axisLine}
            tickLine={axisLine}
            interval={0}
          />
          <Area data={rows(blockedTop)} dataKey="range" type="stepAfter" fill="rgb(125,125,125)" fillOpacity={0.5} stroke="none" dot={false} activeDot={false} isAnimationActive={false} />
          <Area data={rows(blockedGround)} dataKey="range" type="stepAfter" fill="rgb(125,125,125)" fillOpacity={0.5} stroke="none" dot={false} activeDot={false} isAnimationActive={false} />
          {p.layers.map(([pts, color], i) => (
            <Area
              key={i}
              data={rows(pts)}
              dataKey="range"
              type="linear"
              fill={color}
              fillOpacity={1}
              stroke="rgba(255,255,255,0.2)"
              strokeWidth={1}
              dot={false}
              activeDot={false}
              isAnimationActive={false}
            />
          ))}
          <ReferenceArea x1={0} x2={60} y1={2} y2={10} fill="none" stroke="#000" strokeWidth={2} />
        </ComposedChart>
      </div>
      <div style={{ position: "absolute", left: 1700, top: top - 30 }}>
        <ComposedChart data={barExtent} width={190} height={380} margin={{ top: 30, right: 46, left: 19, bottom: 90 }}>
          <XAxis type="number" dataKey="x" domain={[0, 1]} hide />
          <YAxis
            type="number"
            orientation="right"
            domain={[p.lo, p.hi]}
            ticks={[...new Set([p.lo, ...p.ticks, p.hi])].filter((t) => t !== 0.8)}
            allowDataOverflow
            width={100}
            tick={tickStyle}
            tickSize={10}
            tickMargin={8}
            axisLine={false}
            tickLine={axisLine}
            interval={0}
            tickFormatter={(v: number) => v.toFixed(p.digits).replace("-", "\u2212")}
          />
          {p.bands.map((c, i) => (
            <ReferenceArea key={i} x1={0} x2={1} y1={p.lo + step * i} y2={p.lo + step * (i + 1)} fill={c} fillOpacity={1} stroke={c} strokeWidth={0.5} />
          ))}
          <ReferenceArea x1={0} x2={1} y1={p.lo} y2={p.hi} fill="none" stroke="#000" strokeWidth={2} />
        </ComposedChart>
      </div>
      <Label x={904} y={top - 24} text={p.title} bold />
      <Label x={47} y={top + 130} text="Height" vertical />
      {p.unit && <Label x={p.unitX} y={top + 130} text={p.unit} vertical />}
    </>
  );
}

export default function App() {
  return (
    <div style={{ position: "absolute", left: 0, top: 0, width: 1890, height: 2400, background: "#fff" }}>
      <Label x={904} y={49} text="SEA-POL 20250207 1237-1237 UTC RHI at 81.2°" bold />
      {panels.map((p, i) => (
        <Panel key={p.title} top={panelTops[i]} p={p} />
      ))}
      <Label x={904} y={2355} text="Range" />
    </div>
  );
}
